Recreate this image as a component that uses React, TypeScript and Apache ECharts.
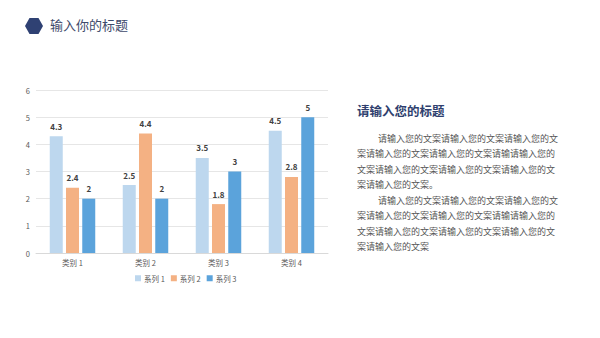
import React, { useEffect, useRef } from "react";
import * as echarts from "echarts";

const categories = ["类别 1", "类别 2", "类别 3", "类别 4"];
const seriesNames = ["系列 1", "系列 2", "系列 3"];
const series1 = [4.3, 2.5, 3.5, 4.5];
const series2 = [2.4, 4.4, 1.8, 2.8];
const series3 = [2, 2, 3, 5];
const colors = ["#BDD7EE", "#F4B183", "#5BA3DB"];
const yTicks = { min: 0, max: 6, interval: 1 };

const headerTitle = "输入你的标题";
const sideTitle = "请输入您的标题";
const bodyLines = [
  { text: "请输入您的文案请输入您的文案请输入您的文", indent: true },
  { text: "案请输入您的文案请输入您的文案请输请输入您的", indent: false },
  { text: "文案请输入您的文案请输入您的文案请输入您的文", indent: false },
  { text: "案请输入您的文案。", indent: false },
  { text: "请输入您的文案请输入您的文案请输入您的文", indent: true },
  { text: "案请输入您的文案请输入您的文案请输请输入您的", indent: false },
  { text: "文案请输入您的文案请输入您的文案请输入您的文", indent: false },
  { text: "案请输入您的文案", indent: false },
];

const FONT = "'Noto Sans CJK SC', 'Microsoft YaHei', sans-serif";

function hexPoints(cx: number, cy: number, rx: number, ry: number) {
  return [
    [cx - rx, cy],
    [cx - rx / 2, cy - ry],
    [cx + rx / 2, cy - ry],
    [cx + rx, cy],
    [cx + rx / 2, cy + ry],
    [cx - rx / 2, cy + ry],
  ];
}

export default function App() {
  const ref = useRef<HTMLDivElement>(null);
  useEffect(() => {
    if (!ref.current) return;
    const chart = echarts.init(ref.current, undefined, { renderer: "svg" });
    const dataSets = [series1, series2, series3];
    const bodyGraphics = bodyLines.map((l, i) => ({
      type: "text",
      left: l.indent ? 378 : 357,
      top: 133.5 + i * 15.5,
      style: {
        text: l.text,
        fill: "#555555",
        font: `9px ${FONT}`,
      },
    }));
    chart.setOption({
      animation: false,
      backgroundColor: "#ffffff",
      grid: { left: 36, right: 272, top: 90, bottom: 85, containLabel: false },
      legend: {
        data: seriesNames,
        bottom: 51,
        left: 130,
        itemWidth: 6,
        itemHeight: 6,
        itemGap: 6,
        icon: "rect",
        textStyle: { fontSize: 7.5, color: "#595959", fontFamily: FONT, padding: [0, 0, 0, -2] },
      },
      xAxis: {
        type: "category",
        data: categories,
        axisLine: { lineStyle: { color: "#d9d9d9" } },
        axisTick: { show: false },
        axisLabel: { fontSize: 7.5, color: "#595959", fontFamily: FONT, margin: 6 },
      },
      yAxis: {
        type: "value",
        min: yTicks.min,
        max: yTicks.max,
        interval: yTicks.interval,
        axisLine: { show: false },
        axisTick: { show: false },
        splitLine: { lineStyle: { color: "#e6e6e6" } },
        axisLabel: { fontSize: 7.5, color: "#595959", fontFamily: FONT, margin: 6 },
      },
      series: seriesNames.map((name, i) => ({
        name,
        type: "bar",
        data: dataSets[i],
        barWidth: 13,
        barGap: "25%",
        itemStyle: { color: colors[i] },
        label: {
          show: true,
          position: "top",
          distance: 6,
          fontSize: 8,
          fontWeight: "bold",
          color: "#404040",
          fontFamily: FONT,
        },
      })),
      graphic: [
        {
          type: "polygon",
          shape: { points: hexPoints(34, 26, 9, 8) },
          style: { fill: "#2F4173" },
        },
        {
          type: "text",
          left: 50,
          top: 18,
          style: { text: headerTitle, fill: "#3E4A6B", font: `13px ${FONT}` },
        },
        {
          type: "text",
          left: 357,
          top: 104,
          style: { text: sideTitle, fill: "#2F3F6E", font: `bold 12.5px ${FONT}` },
        },
        ...bodyGraphics,
      ],
    });
    return () => chart.dispose();
  }, []);
  return (
    <div
      ref={ref}
      style={{ position: "fixed", left: 0, top: 0, width: 600, height: 338 }}
    />
  );
}
